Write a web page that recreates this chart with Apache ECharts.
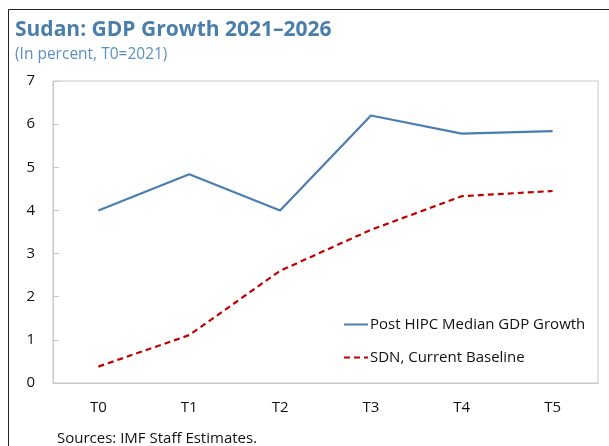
<!DOCTYPE html>
<html><head><meta charset="utf-8">
<script src="https://cdn.jsdelivr.net/npm/echarts@6/dist/echarts.min.js"></script>
<style>html,body{margin:0;padding:0;background:#fff}#c{width:609px;height:446px}</style>
</head><body><div id="c"></div>
<script>
const categories = ['T0','T1','T2','T3','T4','T5'];
const hipcMedian = [4.0, 4.84, 4.0, 6.2, 5.78, 5.84];
const sdnBaseline = [0.38, 1.11, 2.6, 3.55, 4.33, 4.45];
const yTicks = [0,1,2,3,4,5,6,7];

const chart = echarts.init(document.getElementById('c'));
const font = "'Open Sans', 'Noto Sans', sans-serif";
chart.setOption({
  animation: false,
  textStyle: {fontFamily: font},
  graphic: [
    {type:'line', shape:{x1:8.5,y1:9.5,x2:620,y2:9.5}, style:{stroke:'#222',lineWidth:1}},
    {type:'line', shape:{x1:8.5,y1:9.5,x2:8.5,y2:460}, style:{stroke:'#222',lineWidth:1}},
    {type:'text', left:15, top:20, style:{text:'Sudan: GDP Growth 2021–2026', fill:'#4a7eab', font:"bold 21px 'Open Sans', sans-serif"}},
    {type:'text', left:15, top:47, style:{text:'(In percent, T0=2021)', fill:'#5b8fc4', font:"15.5px 'Open Sans', sans-serif"}},
    {type:'text', left:57, top:431, style:{text:'Sources: IMF Staff Estimates.', fill:'#111', font:"15px 'Open Sans', sans-serif"}}
  ],
  grid: {left:53, top:81, width:545, height:302, show:true, borderColor:'#c8c8c8', borderWidth:1},
  legend: {
    orient:'vertical', left:343, top:317, padding:0, itemWidth:24, itemHeight:14, itemGap:18,
    itemStyle:{opacity:0},
    textStyle:{fontSize:15, color:'#111', fontFamily:font, padding:[0,0,0,-3]},
    data:['Post HIPC Median GDP Growth','SDN, Current Baseline']
  },
  xAxis: {
    type:'category', data:categories, boundaryGap:true,
    axisLine:{lineStyle:{color:'#c8c8c8'}},
    axisTick:{inside:true, length:6, lineStyle:{color:'#c8c8c8'}},
    axisLabel:{color:'#111', fontSize:15, margin:17, fontFamily:font}
  },
  yAxis: {
    type:'value', min:yTicks[0], max:yTicks[yTicks.length-1], interval:1,
    axisLine:{show:true, lineStyle:{color:'#c8c8c8'}},
    axisTick:{show:true, inside:true, length:6, lineStyle:{color:'#c8c8c8'}},
    splitLine:{show:false},
    axisLabel:{color:'#111', fontSize:15, margin:18, fontFamily:font}
  },
  series: [
    {name:'Post HIPC Median GDP Growth', type:'line', data:hipcMedian, symbol:'none',
     lineStyle:{color:'#4a7eb0', width:2.2}, itemStyle:{color:'#4a7eb0'}},
    {name:'SDN, Current Baseline', type:'line', data:sdnBaseline, symbol:'none',
     lineStyle:{color:'#c00000', width:2.2, type:[6,4]}, itemStyle:{color:'#c00000'}}
  ]
});
</script></body></html>
